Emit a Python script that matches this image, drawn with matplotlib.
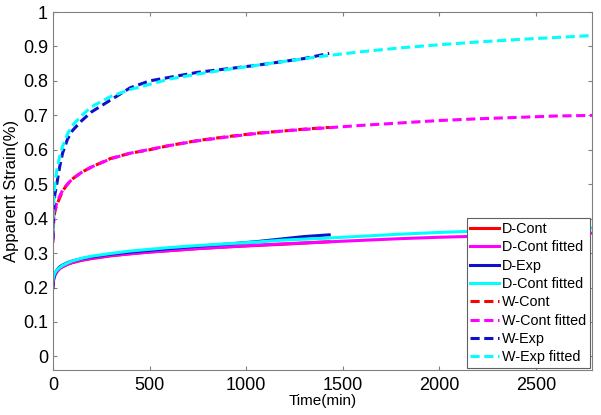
import matplotlib
matplotlib.use('Agg')
import matplotlib.pyplot as plt

plt.rcParams['font.family'] = ['Liberation Sans', 'DejaVu Sans']

# 실험 데이터 시간축 (min)
t_exp = [0, 2, 5, 10, 20, 35, 50, 75, 100, 150, 200, 300, 400, 500, 600, 750,
         900, 1050, 1200, 1300, 1430]
# 피팅 곡선 시간축 (min)
t_fit = [0, 2, 5, 10, 20, 35, 50, 75, 100, 150, 200, 300, 400, 500, 600, 750,
         900, 1050, 1200, 1400, 1600, 1800, 2000, 2200, 2400, 2600, 2800]

d_cont = [0.20, 0.215, 0.225, 0.235, 0.245, 0.255, 0.26, 0.267, 0.272, 0.279, 0.284,
          0.292, 0.298, 0.303, 0.307, 0.313, 0.318, 0.322, 0.326, 0.329, 0.333]
d_cont_fit = [0.21, 0.22, 0.228, 0.236, 0.246, 0.255, 0.261, 0.268, 0.273, 0.28, 0.285,
              0.293, 0.298, 0.303, 0.307, 0.313, 0.318, 0.323, 0.327, 0.332, 0.337,
              0.342, 0.346, 0.349, 0.352, 0.355, 0.358]
d_exp = [0.20, 0.22, 0.23, 0.24, 0.25, 0.26, 0.265, 0.272, 0.277, 0.284, 0.289,
         0.297, 0.303, 0.308, 0.313, 0.32, 0.326, 0.333, 0.342, 0.348, 0.353]
d_exp_fit = [0.22, 0.228, 0.235, 0.242, 0.25, 0.258, 0.264, 0.271, 0.277, 0.285, 0.291,
             0.299, 0.306, 0.311, 0.316, 0.322, 0.327, 0.332, 0.338, 0.343, 0.349,
             0.355, 0.36, 0.364, 0.367, 0.37, 0.373]

w_cont = [0.33, 0.37, 0.40, 0.42, 0.44, 0.46, 0.48, 0.50, 0.515, 0.535, 0.55,
          0.575, 0.59, 0.60, 0.612, 0.627, 0.638, 0.648, 0.655, 0.66, 0.665]
w_cont_fit = [0.34, 0.38, 0.405, 0.425, 0.445, 0.465, 0.482, 0.50, 0.515, 0.535, 0.55,
              0.574, 0.59, 0.601, 0.612, 0.626, 0.637, 0.647, 0.655, 0.663, 0.671,
              0.678, 0.685, 0.69, 0.694, 0.698, 0.70]
w_exp = [0.34, 0.40, 0.44, 0.47, 0.50, 0.55, 0.59, 0.63, 0.655, 0.685, 0.71,
         0.745, 0.78, 0.80, 0.81, 0.825, 0.835, 0.845, 0.857, 0.865, 0.88]
w_exp_fit = [0.36, 0.42, 0.46, 0.50, 0.54, 0.58, 0.61, 0.645, 0.67, 0.70, 0.725,
             0.755, 0.775, 0.79, 0.805, 0.82, 0.833, 0.845, 0.857, 0.872, 0.885,
             0.896, 0.905, 0.913, 0.92, 0.926, 0.932]

x_ticks = [0, 500, 1000, 1500, 2000, 2500]
y_ticks = [0, 0.1, 0.2, 0.3, 0.4, 0.5, 0.6, 0.7, 0.8, 0.9, 1]
y_ticklabels = ['0', '0.1', '0.2', '0.3', '0.4', '0.5', '0.6', '0.7', '0.8', '0.9', '1']

fig = plt.figure(figsize=(6.01, 4.15), dpi=100)
ax = fig.add_axes([0.088, 0.108, 0.897, 0.863])

lw = 2.2
blue = '#1010c8'
dash = (0, (3, 1.5))
ax.plot(t_exp, d_cont, color='red', lw=lw, label='D-Cont')
ax.plot(t_fit, d_cont_fit, color='magenta', lw=lw, label='D-Cont fitted')
ax.plot(t_exp, d_exp, color=blue, lw=lw, label='D-Exp')
ax.plot(t_fit, d_exp_fit, color='cyan', lw=lw, label='D-Cont fitted')
ax.plot(t_exp, w_cont, color='red', lw=lw, ls=dash, label='W-Cont')
ax.plot(t_fit, w_cont_fit, color='magenta', lw=lw, ls=dash, label='W-Cont fitted')
ax.plot(t_exp, w_exp, color=blue, lw=lw, ls=dash, label='W-Exp')
ax.plot(t_fit, w_exp_fit, color='cyan', lw=lw, ls=dash, label='W-Exp fitted')

ax.set_xlim(0, 2790)
ax.set_ylim(-0.04, 1)
ax.set_xticks(x_ticks)
ax.set_yticks(y_ticks)
ax.set_yticklabels(y_ticklabels)
ax.tick_params(direction='in', length=3, labelsize=13, top=True, right=True,
               color='#808080')
ax.tick_params(axis='x', pad=5)
ax.set_xlabel('Time(min)', fontsize=11, labelpad=0)
ax.set_ylabel('Apparent Strain(%)', fontsize=12, labelpad=3)
for s in ax.spines.values():
    s.set_color('#808080')

leg = ax.legend(loc='lower right', fontsize=10.4, handlelength=2.0, handletextpad=0.2,
                borderpad=0.25, labelspacing=0.3, fancybox=False, framealpha=1,
                borderaxespad=0.15)
leg.get_frame().set_edgecolor('#606060')
leg.get_frame().set_linewidth(0.8)

plt.savefig('out.png', dpi=100)
plt.close()
